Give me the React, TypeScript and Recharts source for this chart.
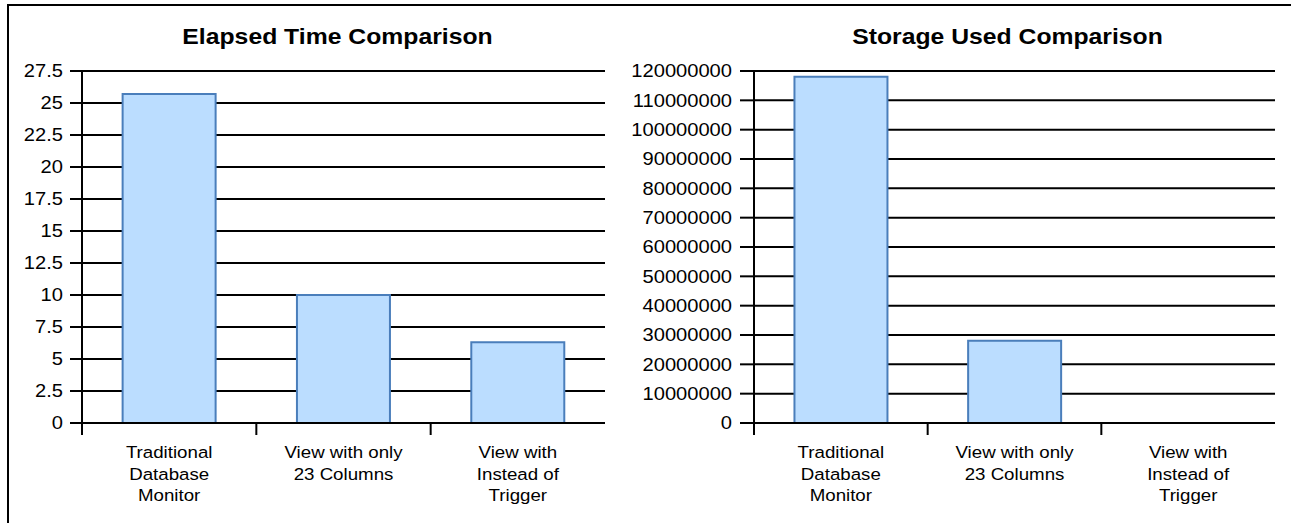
import { BarChart, Bar, XAxis, YAxis, CartesianGrid } from 'recharts'

const categories = ['Traditional Database Monitor', 'View with only 23 Columns', 'View with Instead of Trigger']
const categoryLines = [
  ['Traditional', 'Database', 'Monitor'],
  ['View with only', '23 Columns'],
  ['View with', 'Instead of', 'Trigger'],
]
const elapsedTime = [25.7, 10, 6.3]
const storageUsed = [118000000, 28000000, 0]
const elapsedTicks = [0, 2.5, 5, 7.5, 10, 12.5, 15, 17.5, 20, 22.5, 25, 27.5]
const storageTicks = [
  0, 10000000, 20000000, 30000000, 40000000, 50000000, 60000000,
  70000000, 80000000, 90000000, 100000000, 110000000, 120000000,
]

const FONT = '"Liberation Sans", Arial, sans-serif'
const H = 523
const PLOT_TOP = 71
const X_AXIS_H = 100

function YTick({ x, y, payload }: any) {
  return (
    <text
      transform={`translate(${x},${y}) scale(1.15,1)`}
      textAnchor="end"
      dy="0.36em"
      fontSize={17.5}
      fontFamily={FONT}
      fill="#000"
    >
      {payload.value}
    </text>
  )
}

function makeXTick(band: number) {
  return function XTick({ x, y, payload }: any) {
    const idx = categories.indexOf(payload.value)
    const lines = categoryLines[idx] ?? [payload.value]
    const bx = x - band / 2
    return (
      <g>
        <line x1={bx} x2={bx} y1={y - 1} y2={y + 12} stroke="#000" strokeWidth={2} />
        <text
          transform={`translate(${x},0) scale(1.1,1)`}
          textAnchor="middle"
          fontSize={17}
          fontFamily={FONT}
          fill="#000"
        >
          {lines.map((l, i) => (
            <tspan key={i} x={0} y={y + 35 + i * 21.7}>
              {l}
            </tspan>
          ))}
        </text>
      </g>
    )
  }
}

interface PanelProps {
  values: number[]
  ticks: number[]
  left: number
  width: number
  yAxisWidth: number
  rightMargin: number
  tickSize: number
  tickMargin: number
}

function Panel({ values, ticks, left, width, yAxisWidth, rightMargin, tickSize, tickMargin }: PanelProps) {
  const data = categories.map((c, i) => ({ name: c, value: values[i] }))
  const plotW = width - yAxisWidth - rightMargin
  const XTick = makeXTick(plotW / categories.length)
  return (
    <div style={{ position: 'absolute', left, top: 0 }}>
      <BarChart
        width={width}
        height={H}
        data={data}
        margin={{ top: PLOT_TOP, right: rightMargin, left: 0, bottom: 0 }}
        barCategoryGap="23.3%"
      >
        <CartesianGrid vertical={false} stroke="#000" strokeWidth={2} />
        <XAxis
          dataKey="name"
          height={X_AXIS_H}
          tickSize={0}
          tickMargin={0}
          tickLine={false}
          axisLine={{ stroke: '#000', strokeWidth: 2 }}
          tick={<XTick />}
          interval={0}
        />
        <YAxis
          width={yAxisWidth}
          domain={[0, ticks[ticks.length - 1]]}
          ticks={ticks}
          interval={0}
          tickSize={tickSize}
          tickMargin={tickMargin}
          axisLine={{ stroke: '#000', strokeWidth: 2 }}
          tickLine={{ stroke: '#000', strokeWidth: 2 }}
          tick={<YTick />}
        />
        <Bar dataKey="value" fill="#BBDDFF" stroke="#4A7EBB" strokeWidth={2} isAnimationActive={false} />
      </BarChart>
    </div>
  )
}

export default function App() {
  return (
    <div style={{ position: 'absolute', left: 0, top: 0, width: 1291, height: H, overflow: 'hidden', background: '#fff' }}>
      <Panel
        values={elapsedTime}
        ticks={elapsedTicks}
        left={0}
        width={610}
        yAxisWidth={82}
        rightMargin={5}
        tickSize={12}
        tickMargin={7}
      />
      <Panel
        values={storageUsed}
        ticks={storageTicks}
        left={610}
        width={681}
        yAxisWidth={144}
        rightMargin={16}
        tickSize={14}
        tickMargin={8}
      />
      <svg
        width={1291}
        height={H}
        style={{ position: 'absolute', left: 0, top: 0, pointerEvents: 'none' }}
      >
        <path d="M8,523 V5 H1291" fill="none" stroke="#000" strokeWidth={2} />
        <text
          transform="translate(337.5,44) scale(1.125,1)"
          textAnchor="middle"
          fontSize={22}
          fontWeight="bold"
          fontFamily={FONT}
          fill="#000"
        >
          Elapsed Time Comparison
        </text>
        <text
          transform="translate(1007.5,44) scale(1.125,1)"
          textAnchor="middle"
          fontSize={22}
          fontWeight="bold"
          fontFamily={FONT}
          fill="#000"
        >
          Storage Used Comparison
        </text>
      </svg>
    </div>
  )
}
